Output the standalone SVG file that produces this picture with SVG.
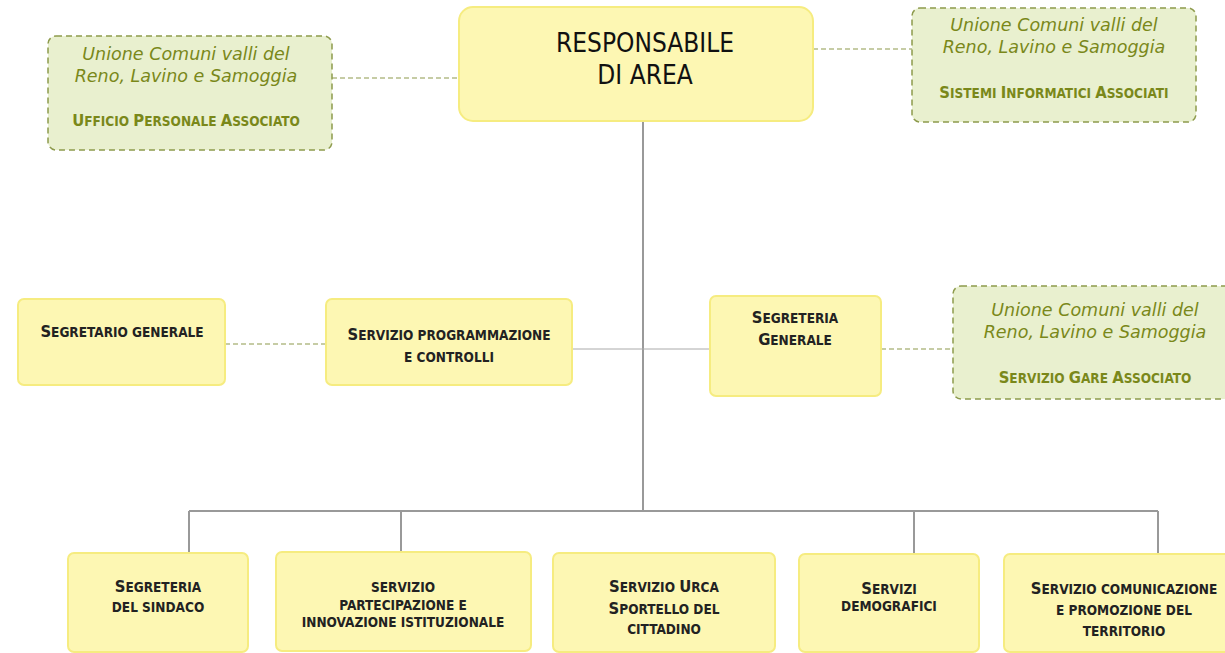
<svg xmlns="http://www.w3.org/2000/svg" width="1225" height="653" viewBox="0 0 1225 653">
<style>
.y{fill:#fdf7b3;stroke:#f6ec80;stroke-width:2}
.g{fill:#e9f0cf;stroke:#8d9a4c;stroke-width:1.5;stroke-dasharray:6 4}
.it{font-family:"DejaVu Sans",sans-serif;font-style:italic;font-size:17.5px;fill:#7a881a;text-anchor:middle}
.sg{font-family:"DejaVu Sans Condensed","DejaVu Sans",sans-serif;font-stretch:condensed;font-weight:bold;font-size:13.5px;fill:#7a881a;text-anchor:middle}
.sc{font-family:"DejaVu Sans Condensed","DejaVu Sans",sans-serif;font-stretch:condensed;font-weight:bold;font-size:13.5px;fill:#222;text-anchor:middle}
.b{font-size:16.5px}
.big{font-family:"DejaVu Sans Condensed","DejaVu Sans",sans-serif;font-stretch:condensed;font-size:26px;fill:#111;text-anchor:middle}
.ln{stroke:#999;stroke-width:2;fill:none}
.dl{stroke:#8d9a4c;stroke-width:1.2;stroke-dasharray:5 3;fill:none}
</style>
<rect width="1225" height="653" fill="#fff"/>
<g id="connectors">
<path class="ln" d="M643 121V511M189 511H1158M189 511V553M401 511V552M914 511V554M1158 511V554"/>
<path stroke="#aaa" stroke-width="1" fill="none" d="M572 349H710"/>
<path class="dl" d="M332 78H459M813 49H912M225 344H326M881 349H953"/>
</g>
<g id="n-resp"><rect class="y" x="459" y="7" width="354" height="114" rx="14"/>
<text class="big" x="645" y="52">RESPONSABILE</text><text class="big" x="645" y="84">DI AREA</text></g>
<g id="n-ufficio"><rect class="g" x="48" y="36" width="284" height="114" rx="8"/>
<text class="it" x="186" y="60">Unione Comuni valli del</text>
<text class="it" x="186" y="82">Reno, Lavino e Samoggia</text>
<text class="sg" x="186" y="126"><tspan class="b">U</tspan>FFICIO <tspan class="b">P</tspan>ERSONALE <tspan class="b">A</tspan>SSOCIATO</text></g>
<g id="n-sistemi"><rect class="g" x="912" y="8" width="284" height="114" rx="8"/>
<text class="it" x="1054" y="31">Unione Comuni valli del</text>
<text class="it" x="1054" y="53">Reno, Lavino e Samoggia</text>
<text class="sg" x="1054" y="98"><tspan class="b">S</tspan>ISTEMI <tspan class="b">I</tspan>NFORMATICI <tspan class="b">A</tspan>SSOCIATI</text></g>
<g id="n-segretario"><rect class="y" x="18" y="299" width="207" height="86" rx="6"/>
<text class="sc" x="122" y="337"><tspan class="b">S</tspan>EGRETARIO GENERALE</text></g>
<g id="n-programmazione"><rect class="y" x="326" y="299" width="246" height="86" rx="6"/>
<text class="sc" x="449" y="340"><tspan class="b">S</tspan>ERVIZIO PROGRAMMAZIONE</text>
<text class="sc" x="449" y="362">E CONTROLLI</text></g>
<g id="n-segreteria-gen"><rect class="y" x="710" y="296" width="171" height="100" rx="6"/>
<text class="sc" x="795" y="323"><tspan class="b">S</tspan>EGRETERIA</text>
<text class="sc" x="795" y="345"><tspan class="b">G</tspan>ENERALE</text></g>
<g id="n-gare"><rect class="g" x="953" y="286" width="290" height="113" rx="8"/>
<text class="it" x="1095" y="316">Unione Comuni valli del</text>
<text class="it" x="1095" y="338">Reno, Lavino e Samoggia</text>
<text class="sg" x="1095" y="383"><tspan class="b">S</tspan>ERVIZIO <tspan class="b">G</tspan>ARE <tspan class="b">A</tspan>SSOCIATO</text></g>
<g id="n-sindaco"><rect class="y" x="68" y="553" width="180" height="99" rx="6"/>
<text class="sc" x="158" y="592"><tspan class="b">S</tspan>EGRETERIA</text>
<text class="sc" x="158" y="612">DEL SINDACO</text></g>
<g id="n-partecipazione"><rect class="y" x="276" y="552" width="255" height="99" rx="6"/>
<text class="sc" x="403" y="592">SERVIZIO</text>
<text class="sc" x="403" y="610">PARTECIPAZIONE E</text>
<text class="sc" x="403" y="627">INNOVAZIONE ISTITUZIONALE</text></g>
<g id="n-urca"><rect class="y" x="553" y="553" width="222" height="99" rx="6"/>
<text class="sc" x="664" y="592"><tspan class="b">S</tspan>ERVIZIO <tspan class="b">U</tspan>RCA</text>
<text class="sc" x="664" y="614"><tspan class="b">S</tspan>PORTELLO DEL</text>
<text class="sc" x="664" y="634">CITTADINO</text></g>
<g id="n-demografici"><rect class="y" x="799" y="554" width="180" height="98" rx="6"/>
<text class="sc" x="889" y="594"><tspan class="b">S</tspan>ERVIZI</text>
<text class="sc" x="889" y="611">DEMOGRAFICI</text></g>
<g id="n-comunicazione"><rect class="y" x="1004" y="554" width="240" height="98" rx="6"/>
<text class="sc" x="1124" y="594"><tspan class="b">S</tspan>ERVIZIO COMUNICAZIONE</text>
<text class="sc" x="1124" y="615">E PROMOZIONE DEL</text>
<text class="sc" x="1124" y="636">TERRITORIO</text></g>
</svg>
